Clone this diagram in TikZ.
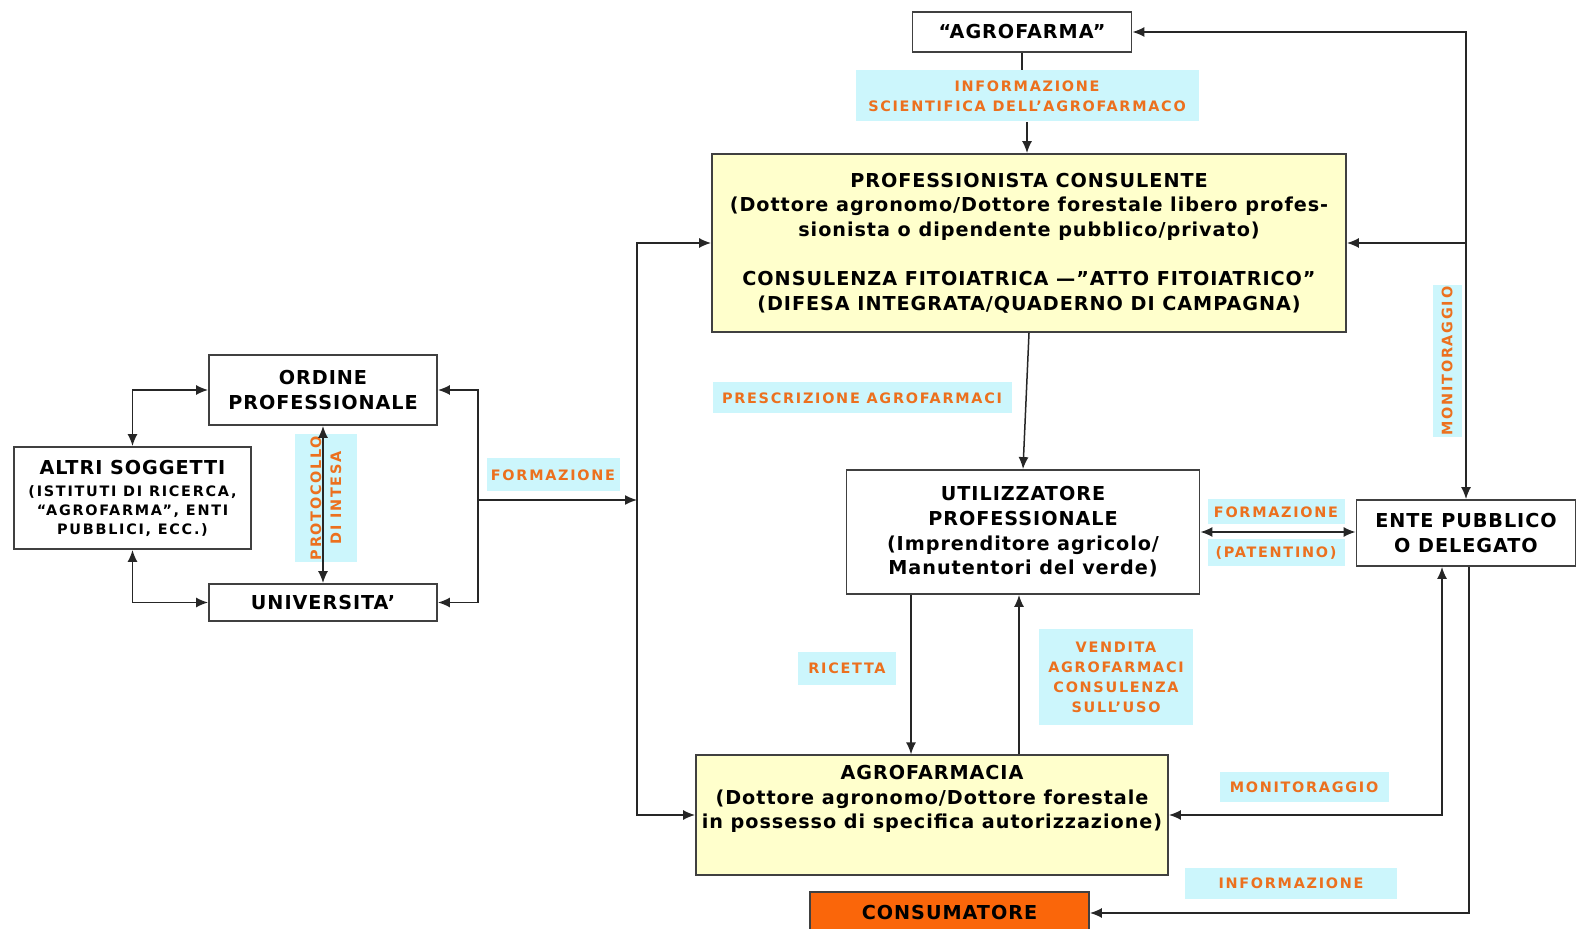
\documentclass[tikz,border=0pt]{standalone}
\usepackage{fontspec}
\setmainfont{DejaVu Sans}[LetterSpace=5]
\newfontfamily\lblfont{DejaVu Sans}[LetterSpace=12]
\usetikzlibrary{arrows.meta, positioning, calc}

\definecolor{paleyellow}{RGB}{255,255,204}
\definecolor{palecyan}{RGB}{204,246,252}
\definecolor{labelorange}{RGB}{236,112,30}
\definecolor{consorange}{RGB}{250,102,10}

\begin{document}
\begin{tikzpicture}[
        x=0.5pt, y=-0.5pt,
        box/.style={
            rectangle,
            draw=black!75,
            line width=0.9pt,
            fill=white,
            inner sep=2pt,
            align=center,
            font=\bfseries\fontsize{9.6}{12.3}\selectfont
        },
        yellowbox/.style={box, fill=paleyellow},
        tag/.style={
            rectangle,
            fill=palecyan,
            text=labelorange,
            inner sep=1pt,
            align=center,
            font=\lblfont\bfseries\fontsize{7.2}{10}\selectfont
        },
        line/.style={draw=black!85, line width=0.75pt, -{Latex[length=6pt,width=5pt]}},
        biline/.style={line, {Latex[length=6pt,width=5pt]}-{Latex[length=6pt,width=5pt]}}
    ]
        \useasboundingbox (0,0) rectangle (1578,929);

        % nodes
        \node [box, minimum width=109.5pt, minimum height=20pt] (agrofarma) at (1022,32) {“AGROFARMA”};
        \node [yellowbox, minimum width=317pt, minimum height=89pt] (consulente) at (1029,243)
            {PROFESSIONISTA CONSULENTE\\(Dottore agronomo/Dottore forestale libero profes-\\sionista o dipendente pubblico/privato)\\[12.3pt]CONSULENZA FITOIATRICA —”ATTO FITOIATRICO”\\(DIFESA INTEGRATA/QUADERNO DI CAMPAGNA)};
        \node [box, minimum width=176.5pt, minimum height=62pt] (utilizzatore) at (1023,532)
            {UTILIZZATORE\\PROFESSIONALE\\(Imprenditore agricolo/\\Manutentori del verde)};
        \node [box, minimum width=109.5pt, minimum height=33pt] (ente) at (1466,533) {ENTE PUBBLICO\\O DELEGATO};
        \node [yellowbox, minimum width=236pt, text depth=18pt, inner ysep=5pt] (agrofarmacia) at (932,815)
            {AGROFARMACIA\\(Dottore agronomo/Dottore forestale\\in possesso di specifica autorizzazione)};
        \node [box, fill=consorange, minimum width=139.5pt, minimum height=21pt] (consumatore) at (949.5,913) {CONSUMATORE};

        \node [box, minimum width=114pt, minimum height=35pt] (ordine) at (323,390) {ORDINE\\PROFESSIONALE};
        \node [box, minimum width=118.5pt, minimum height=51pt] (altri) at (132.5,498)
            {ALTRI SOGGETTI\\[-1pt]{\lblfont\fontsize{7.2}{9.3}\selectfont (ISTITUTI DI RICERCA,}\\[-3pt]{\lblfont\fontsize{7.2}{9.3}\selectfont “AGROFARMA”, ENTI}\\[-3pt]{\lblfont\fontsize{7.2}{9.3}\selectfont PUBBLICI, ECC.)}};
        \node [box, minimum width=114pt, minimum height=18.5pt] (universita) at (323,602.5) {UNIVERSITA’};

        % labels
        \node [tag, minimum width=171.5pt, minimum height=25.5pt] (tinfo) at (1027,96) {INFORMAZIONE\\SCIENTIFICA DELL’AGROFARMACO};
        \node [tag, minimum width=149.5pt, minimum height=15.5pt] (tpresc) at (862,398) {PRESCRIZIONE AGROFARMACI};
        \node [tag, minimum width=66.5pt, minimum height=16.5pt] (tform) at (553,475) {FORMAZIONE};
        \node [tag, rotate=90, minimum width=62.5pt, minimum height=31pt] (tprot) at (326,498) {PROTOCOLLO\\DI INTESA};
        \node [tag, rotate=90, minimum width=74pt, minimum height=14.5pt] (tmonup) at (1447,361) {MONITORAGGIO};
        \node [tag, minimum width=68.5pt, minimum height=12.5pt] (tformb) at (1276,512) {FORMAZIONE};
        \node [tag, minimum width=68.5pt, minimum height=13.5pt] (tpat) at (1276,553) {(PATENTINO)};
        \node [tag, minimum width=49pt, minimum height=16.5pt] (tric) at (847,668) {RICETTA};
        \node [tag, minimum width=77pt, minimum height=48pt] (tvend) at (1116,677) {VENDITA\\AGROFARMACI\\CONSULENZA\\SULL’USO};
        \node [tag, minimum width=84.5pt, minimum height=15pt] (tmon) at (1304,787) {MONITORAGGIO};
        \node [tag, minimum width=106pt, minimum height=15.5pt] (tinf) at (1291,883) {INFORMAZIONE};

        % paths
        \path [biline] (altri.north) |- (ordine.west);
        \path [biline] (altri.south) |- (universita.west);
        \path [biline] (ordine.south) -- (universita.north);
        \coordinate (split) at (478,500);
        \coordinate (hub) at (637,500);
        \path [biline] (ordine.east) -| (split) |- (universita.east);
        \path [line] (split) -- (hub);
        \path [line] (hub) |- (consulente.west);
        \path [line] (hub) |- (agrofarmacia.west);

        \path [draw=black!85, line width=0.75pt] (agrofarma.south) -- (agrofarma.south |- tinfo.north);
        \path [line] (tinfo.south) -- (tinfo.south |- consulente.north);
        \path [line] (consulente.south) -- (utilizzatore.north);
        \path [biline] (agrofarma.east) -| (ente.north);
        \coordinate (tap) at (ente.north |- consulente.east);
        \path [line] (tap) -- (consulente.east);
        \path [biline] (utilizzatore.east) -- (utilizzatore.east -| ente.west);

        \coordinate (ric) at ($(utilizzatore.south)+(-112,0)$);
        \path [line] (ric) -- (ric |- agrofarmacia.north);
        \coordinate (vend) at ($(utilizzatore.south |- agrofarmacia.north)+(-4,0)$);
        \path [line] (vend) -- (vend |- utilizzatore.south);

        \coordinate (mon) at ($(ente.south)+(-24,0)$);
        \path [biline] (agrofarmacia.east) -| (mon);
        \coordinate (inf) at ($(ente.south)+(3,0)$);
        \path [line] (inf) |- (consumatore.east);

    \end{tikzpicture}
\end{document}
